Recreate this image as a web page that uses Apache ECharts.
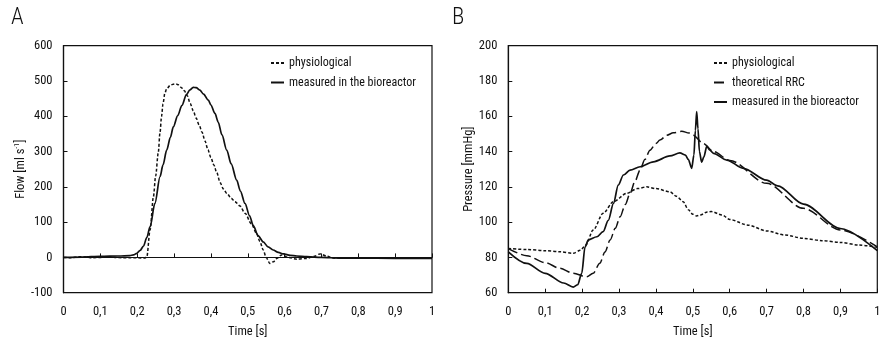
<!DOCTYPE html>
<html>
<head>
<meta charset="utf-8">
<script src="https://cdn.jsdelivr.net/npm/echarts@6/dist/echarts.min.js"></script>
<style>html,body{margin:0;padding:0;background:#fff;}#c{width:885px;height:344px;}</style>
</head>
<body>
<div id="c"></div>
<script>
// ---- Panel A: Flow [ml/s] vs time [s] ----
var flowPhysiological = [
  [0,0],[0.02,-1],[0.04,2],[0.06,1],[0.08,-1],[0.1,0],[0.12,1],[0.14,0],[0.16,-1],[0.18,-1],[0.2,-1],[0.22,-2],
  [0.226,1],[0.235,78],[0.244,172],[0.25,230],[0.257,295],[0.262,355],[0.266,399],[0.27,435],[0.275,465],
  [0.28,478],[0.29,488],[0.298,491],[0.305,492],[0.312,489],[0.32,481],[0.328,472],[0.336,458],[0.344,436],
  [0.352,416],[0.36,395],[0.368,375],[0.376,355],[0.384,330],[0.392,305],[0.40,283],[0.408,262],[0.416,240],
  [0.425,212],[0.434,194],[0.443,182],[0.455,168],[0.465,158],[0.479,146],[0.4925,125],[0.51,95],[0.524,68],
  [0.533,45],[0.542,21],[0.55,0],[0.56,-17],[0.57,-12],[0.579,-3],[0.592,7],[0.61,0],[0.633,-5],[0.66,-3],
  [0.68,3],[0.696,10],[0.714,4],[0.732,-2],[0.76,-1],[0.8,-1],[0.85,-1],[0.9,-1],[0.95,-1],[1.0,-1]
];
var flowMeasured = [
  [0,0],[0.05,1],[0.1,3],[0.15,4],[0.18,5],[0.19,7],[0.199,11.6],[0.208,20],[0.217,32],[0.226,56],[0.235,87],
  [0.248,153],[0.262,229],[0.27,262],[0.28,304],[0.29,340],[0.298,370],[0.31,402],[0.321,430],[0.334,462],
  [0.343,475],[0.352,482],[0.36,481],[0.37,474],[0.38,463],[0.393,446],[0.40,432],[0.411,408],[0.42,383],
  [0.43,347],[0.443,304],[0.455,265],[0.47,219],[0.48,188],[0.4925,153],[0.505,118],[0.515,90],[0.528,62],
  [0.542,44],[0.555,30],[0.569,21],[0.583,14],[0.597,10],[0.615,6],[0.633,4],[0.66,2],[0.7,0],[0.75,-2],
  [0.8,-2],[0.9,-2.5],[1.0,-3]
];
// ---- Panel B: Pressure [mmHg] vs time [s] ----
var pressPhysiological = [
  [0,85.1],[0.05,84.5],[0.1,83.8],[0.14,83.2],[0.176,82.3],[0.195,84],[0.21,87],[0.23,95.5],[0.257,105],
  [0.285,111.6],[0.321,116.3],[0.35,119],[0.375,120],[0.4,119],[0.438,117.2],[0.456,114.6],[0.474,111.5],
  [0.488,107],[0.5,104.5],[0.51,103.5],[0.52,104],[0.54,105.8],[0.55,106],[0.58,104],[0.6,101.5],[0.65,98.3],
  [0.7,95],[0.75,92.7],[0.8,90.8],[0.85,89.5],[0.9,88.5],[0.95,87],[1.0,85.7]
];
var pressTheoretical = [
  [0,85],[0.05,81],[0.1,77],[0.14,73.8],[0.176,71],[0.212,69],[0.23,71],[0.248,76.7],[0.262,83],[0.276,89.9],
  [0.29,96.5],[0.303,103],[0.317,110],[0.33,116.3],[0.343,123],[0.357,129.5],[0.37,135.5],[0.384,140.8],
  [0.4,144.5],[0.411,146.5],[0.43,149.3],[0.447,150.6],[0.47,151.5],[0.49,150.5],[0.501,149.3],[0.528,144.6],
  [0.556,140],[0.6,135],[0.7,122],[0.8,107.8],[0.9,95.5],[1.0,86]
];
var pressMeasured = [
  [0,83.2],[0.05,76.6],[0.1,71],[0.15,65.5],[0.176,63.2],[0.188,64.5],[0.199,71],[0.208,86],[0.217,89.9],
  [0.24,91.7],[0.257,94.6],[0.271,101],[0.285,110.6],[0.298,121],[0.312,126.7],[0.33,129.5],[0.357,131.4],
  [0.393,134.2],[0.438,137.5],[0.465,139.2],[0.48,138],[0.488,135.5],[0.497,130.5],[0.503,138],[0.507,152],
  [0.5105,162.6],[0.514,153],[0.518,140],[0.524,134],[0.53,137],[0.538,143.1],[0.545,141],[0.556,139],
  [0.592,135.2],[0.637,130.5],[0.7,123.8],[0.73,120.6],[0.8,110.2],[0.9,96.4],[1.0,83.8]
];
var legendA = ['physiological','measured in the bioreactor'];
var legendB = ['physiological','theoretical RRC','measured in the bioreactor'];

var FONT = "'Roboto Condensed','DejaVu Sans Condensed',sans-serif";
var INK = '#111';
function fmt(v){ return String(Math.round(v*10)/10).replace('.', ','); }
function xAxis(gi){
  return {type:'value', gridIndex:gi, min:0, max:1, interval:0.1,
    name:'Time [s]', nameLocation:'middle', nameGap:33,
    nameTextStyle:{fontFamily:FONT, fontSize:12.5, color:INK},
    axisLine:{lineStyle:{color:INK, width:1.2}},
    axisTick:{inside:true, length:4, lineStyle:{color:INK}},
    axisLabel:{fontFamily:FONT, fontSize:12.5, color:INK, margin:13, formatter:fmt},
    splitLine:{show:false}};
}
function yAxis(gi, min, max, step, name, gap, rich){
  return {type:'value', gridIndex:gi, min:min, max:max, interval:step,
    name:name, nameLocation:'middle', nameGap:gap,
    nameTextStyle:{fontFamily:FONT, fontSize:12.5, color:INK, rich:rich},
    axisLine:{show:true, lineStyle:{color:INK, width:1.2}},
    axisTick:{show:true, inside:true, length:4, lineStyle:{color:INK}},
    axisLabel:{fontFamily:FONT, fontSize:12.5, color:INK, margin:11},
    splitLine:{show:false}};
}
function line(name, data, xi, yi, type, width){
  return {name:name, type:'line', xAxisIndex:xi, yAxisIndex:yi, data:data, symbol:'none',
    smooth:0.3, smoothMonotone:'x', animation:false,
    lineStyle:{color:INK, width:width, type:type}, itemStyle:{color:INK}};
}
var legendCommon = {orient:'vertical', top:56, padding:0, itemWidth:13, itemHeight:14, itemGap:5.5,
  itemStyle:{opacity:0}, selectedMode:false,
  textStyle:{fontFamily:FONT, fontSize:12, color:INK, lineHeight:14}};
var chart = echarts.init(document.getElementById('c'), null, {renderer:'canvas'});
chart.setOption({
  backgroundColor:'#fff',
  animation:false,
  title:[
    {text:'A', left:11, top:7, padding:0, textStyle:{fontFamily:FONT, fontSize:23, fontWeight:300, color:INK}},
    {text:'B', left:452, top:7, padding:0, textStyle:{fontFamily:FONT, fontSize:23, fontWeight:300, color:INK}}
  ],
  legend:[
    Object.assign({}, legendCommon, {data:legendA, left:270}),
    Object.assign({}, legendCommon, {data:legendB, left:713})
  ],
  grid:[
    {left:63.5, right:453, top:45.7, bottom:51.3, show:true, borderColor:INK, borderWidth:1.2},
    {left:508.3, right:7.7, top:45.7, bottom:51.3, show:true, borderColor:INK, borderWidth:1.2}
  ],
  xAxis:[xAxis(0), xAxis(1)],
  yAxis:[
    yAxis(0, -100, 600, 100, '{a|Flow [ml s}{s|-1}{a|]}', 35,
      {a:{fontFamily:FONT, fontSize:12.5, color:INK}, s:{fontFamily:FONT, fontSize:8, color:INK, verticalAlign:'top', padding:[0,0,6,0]}}),
    yAxis(1, 60, 200, 20, 'Pressure [mmHg]', 31)
  ],
  series:[
    line('physiological', flowPhysiological, 0, 0, [3,2], 1.5),
    line('measured in the bioreactor', flowMeasured, 0, 0, 'solid', 1.7),
    line('physiological', pressPhysiological, 1, 1, [3,2], 1.5),
    line('theoretical RRC', pressTheoretical, 1, 1, [10,4], 1.5),
    line('measured in the bioreactor', pressMeasured, 1, 1, 'solid', 1.7)
  ]
});
</script>
</body>
</html>
